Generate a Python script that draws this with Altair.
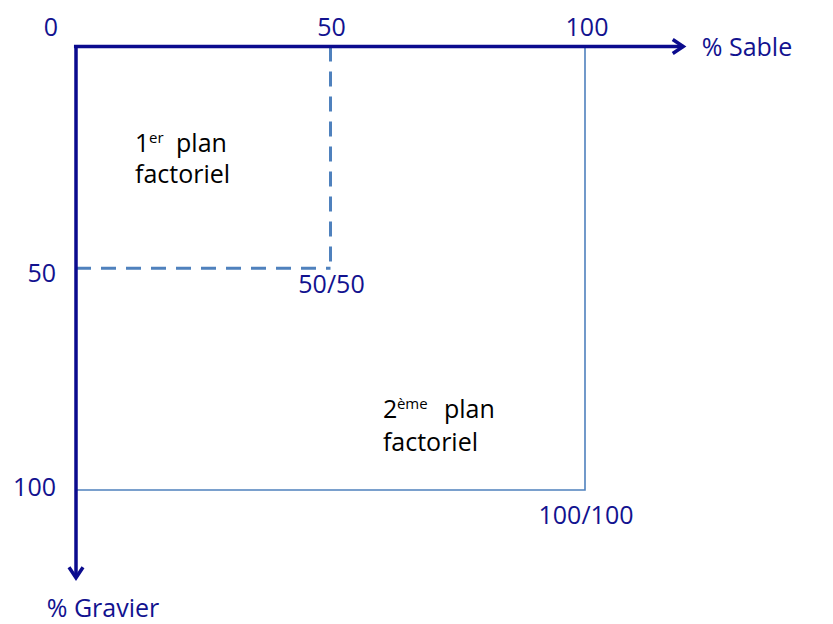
import altair as alt
import pandas as pd

# ---- data ----
x_ticks = [0, 50, 100]            # % Sable ticks along the top axis
y_ticks = [50, 100]               # % Gravier ticks along the left axis
x_tick_labels = ["0", "50", "100"]
y_tick_labels = ["50", "100"]
corner_values = [50, 100]
corner_labels = ["50/50", "100/100"]
axis_titles = ["% Sable", "% Gravier"]
axis_end = 120                    # arrows run a little past 100
plan1 = ["1", "er", "plan", "factoriel"]
plan2 = ["2", "ème", "plan", "factoriel"]
plan1_anchor = (11.6, 23.8)
plan2_anchor = (60.3, 83.8)

# ---- layout / styles ----
NAVY = "#0B0B8E"
LBL = "#12128F"
STEEL = "#4F81BD"
FONT = "Open Sans"
W, H = 817, 616
PX_X = 5.09   # px per unit horizontally
PX_Y = 4.435  # px per unit vertically
x0 = -(76 - 8) / PX_X
y0 = -(46.5 - 8) / PX_Y
xs = alt.Scale(domain=[x0, x0 + W / PX_X], nice=False, zero=False)
ys = alt.Scale(domain=[y0, y0 + H / PX_Y], nice=False, zero=False, reverse=True)

def X(f="x"):
    return alt.X(f"{f}:Q", scale=xs, axis=None)

def Y(f="y"):
    return alt.Y(f"{f}:Q", scale=ys, axis=None)

# rectangle 0..100 x 0..100
rect_df = pd.DataFrame({"x": [0], "x2": [100], "y": [0], "y2": [100]})
rect = alt.Chart(rect_df).mark_rect(fillOpacity=0, stroke=STEEL, strokeWidth=1.6).encode(
    x=X(), x2="x2:Q", y=Y(), y2="y2:Q")

# dashed 50/50 lines
mid = x_ticks[1]
dash_df = pd.DataFrame({"x": [mid, 0], "y": [0, mid], "x2": [mid, mid], "y2": [mid, mid]})
dashed = alt.Chart(dash_df).mark_rule(color=STEEL, strokeWidth=3, strokeDash=[15, 10]).encode(
    x=X(), y=Y(), x2="x2:Q", y2="y2:Q")

# axis lines
ax_df = pd.DataFrame({"x": [-0.4, 0], "y": [0, -0.3], "x2": [axis_end - 0.7, 0], "y2": [0, axis_end - 0.2]})
axes = alt.Chart(ax_df).mark_rule(color=NAVY, strokeWidth=3.5).encode(
    x=X(), y=Y(), x2="x2:Q", y2="y2:Q")

# arrow heads (open chevrons)
ah_r = alt.Chart(pd.DataFrame({"x": [axis_end - 0.7], "y": [0]})).mark_point(
    shape="M -1.5 -1 L 0 0 L -1.5 1", size=196, filled=False, stroke=NAVY, strokeWidth=3.5,
    opacity=1).encode(x=X(), y=Y())
ah_d = alt.Chart(pd.DataFrame({"x": [0], "y": [axis_end - 0.2]})).mark_point(
    shape="M -1 -1.5 L 0 0 L 1 -1.5", size=196, filled=False, stroke=NAVY, strokeWidth=3.5,
    opacity=1).encode(x=X(), y=Y())

# top tick labels
top_dx = [-25, 1, 2]
top_df = pd.DataFrame({"x": x_ticks, "y": [0] * 3, "t": x_tick_labels})
top_layers = [
    alt.Chart(top_df.iloc[[i]]).mark_text(font=FONT, fontSize=25, color=LBL, align="center",
                                         baseline="middle", dx=int(top_dx[i]), dy=-19).encode(
        x=X(), y=Y(), text="t:N")
    for i in range(3)
]

# left tick labels
left_dy = [6, -2]
left_layers = [
    alt.Chart(pd.DataFrame({"x": [0], "y": [y_ticks[i]], "t": [y_tick_labels[i]]})).mark_text(
        font=FONT, fontSize=25, color=LBL, align="right", baseline="middle", dx=-20,
        dy=left_dy[i]).encode(x=X(), y=Y(), text="t:N")
    for i in range(2)
]

# corner labels
corner_dy = [17, 26]
corner_layers = [
    alt.Chart(pd.DataFrame({"x": [corner_values[i]], "y": [corner_values[i]], "t": [corner_labels[i]]})).mark_text(
        font=FONT, fontSize=25, color=LBL, align="center", baseline="middle", dx=1,
        dy=corner_dy[i]).encode(x=X(), y=Y(), text="t:N")
    for i in range(2)
]

# axis titles
t1 = alt.Chart(pd.DataFrame({"x": [axis_end], "y": [0], "t": [axis_titles[0]]})).mark_text(
    font=FONT, fontSize=25, color=LBL, align="left", baseline="middle", dx=15, dy=1).encode(
    x=X(), y=Y(), text="t:N")
t2 = alt.Chart(pd.DataFrame({"x": [0], "y": [axis_end], "t": [axis_titles[1]]})).mark_text(
    font=FONT, fontSize=25, color=LBL, align="center", baseline="middle", dx=27, dy=30).encode(
    x=X(), y=Y(), text="t:N")

def plan_block(words, anchor, sup_dx, plan_dx, line_dy):
    layers = []
    specs = [
        (words[0], 0, 0, 25),
        (words[1], sup_dx, -9, 15),
        (words[2], plan_dx, 0, 25),
        (words[3], 0, line_dy, 25),
    ]
    for txt, dx, dy, fs in specs:
        df = pd.DataFrame({"x": [anchor[0]], "y": [anchor[1]], "t": [txt]})
        layers.append(alt.Chart(df).mark_text(font=FONT, fontSize=fs, color="#000000",
                                              align="left", baseline="alphabetic",
                                              dx=dx, dy=dy).encode(x=X(), y=Y(), text="t:N"))
    return layers

p1 = plan_block(plan1, plan1_anchor, 14, 41, 31)
p2 = plan_block(plan2, plan2_anchor, 14, 61, 33)

chart = alt.layer(
    rect, dashed, axes, ah_r, ah_d, *top_layers, *left_layers, *corner_layers, t1, t2, *p1, *p2
).properties(
    width=W, height=H, autosize=alt.AutoSizeParams(type="none"), padding=0
).configure(background="white", view=alt.ViewConfig(stroke=None))

chart.save("out.html", embed_options={"renderer": "svg", "actions": False})
